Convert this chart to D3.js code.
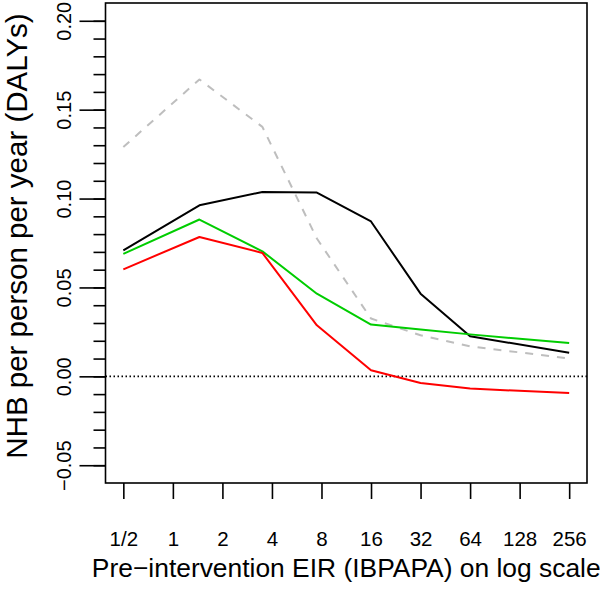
<!DOCTYPE html>
<html>
<head>
<meta charset="utf-8">
<script src="https://cdn.jsdelivr.net/npm/d3@7"></script>
<style>
  html, body { margin: 0; padding: 0; background: #fff; }
  svg { display: block; }
  text { font-family: "Liberation Sans", Arial, Helvetica, sans-serif; fill: #000; }
</style>
</head>
<body>
<svg id="chart" width="600" height="595"></svg>
<script>
// ---- data ----
const eir = [0.5, 1.45, 3.5, 7.5, 16, 32, 64, 256];
const seriesBlack = [0.0709, 0.0962, 0.1037, 0.1034, 0.0871, 0.0465, 0.0225, 0.0133];
const seriesGreen = [0.0689, 0.0882, 0.0703, 0.0465, 0.0291, 0.0263, 0.0236, 0.0187];
const seriesRed   = [0.0602, 0.0784, 0.0694, 0.0287, 0.0034, -0.0038, -0.0069, -0.0094];
const seriesGrey  = [0.129, 0.167, 0.1403, 0.0775, 0.0325, 0.0231, 0.0169, 0.0100];
const xTickValues = [0.5, 1, 2, 4, 8, 16, 32, 64, 128, 256];
const xTickLabels = ["1/2", "1", "2", "4", "8", "16", "32", "64", "128", "256"];
const yMajorTicks = [-0.05, 0, 0.05, 0.10, 0.15, 0.20];
const yMinorTicks = d3.range(-5, 21).map(i => i / 100);
const xTitle = "Pre\u2212intervention EIR (IBPAPA) on log scale";
const yTitle = "NHB per person per year (DALYs)";

// ---- layout ----
const box = { left: 105.5, right: 587, top: 3, bottom: 483 };
const svg = d3.select("#chart");

// R-style 4% padding on the log axis
const pad = 9 * 0.04;
const x = d3.scaleLog().base(2)
  .domain([0.5 / Math.pow(2, pad), 256 * Math.pow(2, pad)])
  .range([box.left, box.right]);
const y = d3.scaleLinear()
  .domain([-0.06, 0.21])
  .range([box.bottom, box.top]);

// zero reference line (dotted)
svg.append("line")
  .attr("x1", box.left).attr("x2", box.right)
  .attr("y1", y(0)).attr("y2", y(0))
  .attr("stroke", "#000").attr("stroke-width", 1.8)
  .attr("stroke-dasharray", "1.5,2.5");

// series
const line = d3.line()
  .x((d, i) => x(eir[i]))
  .y(d => y(d));

const series = [
  { values: seriesGrey,  color: "#BEBEBE", dash: "8,8" },
  { values: seriesBlack, color: "#000000", dash: null },
  { values: seriesGreen, color: "#00CD00", dash: null },
  { values: seriesRed,   color: "#FF0000", dash: null }
];
series.forEach(s => {
  svg.append("path")
    .datum(s.values)
    .attr("d", line)
    .attr("fill", "none")
    .attr("stroke", s.color)
    .attr("stroke-width", 2)
    .attr("stroke-linejoin", "round")
    .attr("stroke-dasharray", s.dash);
});

// box
svg.append("rect")
  .attr("x", box.left).attr("y", box.top)
  .attr("width", box.right - box.left).attr("height", box.bottom - box.top)
  .attr("fill", "none").attr("stroke", "#000").attr("stroke-width", 1.6);

// x axis
const xAxis = d3.axisBottom(x)
  .tickValues(xTickValues)
  .tickFormat((d, i) => xTickLabels[i])
  .tickSize(16)
  .tickPadding(32);
const gx = svg.append("g")
  .attr("transform", `translate(0,${box.bottom})`)
  .call(xAxis);
gx.select(".domain").remove();
gx.selectAll(".tick line").attr("stroke-width", 1.6);
gx.selectAll("text").attr("font-size", 20.5).attr("font-family", "Liberation Sans, Arial, sans-serif");

// y axis minor ticks
const gyMinor = svg.append("g")
  .attr("transform", `translate(${box.left},0)`)
  .call(d3.axisLeft(y).tickValues(yMinorTicks).tickSize(12).tickFormat(""));
gyMinor.select(".domain").remove();
gyMinor.selectAll(".tick line").attr("stroke-width", 1.6);

// y axis major ticks
const gy = svg.append("g")
  .attr("transform", `translate(${box.left},0)`)
  .call(d3.axisLeft(y).tickValues(yMajorTicks).tickSize(26).tickFormat(d3.format(".2f")));
gy.select(".domain").remove();
gy.selectAll(".tick line").attr("stroke-width", 1.6);
gy.selectAll("text")
  .attr("x", null).attr("dy", "0.35em")
  .attr("text-anchor", "middle")
  .attr("transform", "translate(-42,0) rotate(-90)")
  .attr("font-size", 20).attr("font-family", "Liberation Sans, Arial, sans-serif");

// axis titles
svg.append("text")
  .attr("x", (box.left + box.right) / 2)
  .attr("y", 577)
  .attr("text-anchor", "middle")
  .attr("font-size", 26.4)
  .text(xTitle);

svg.append("text")
  .attr("transform", `translate(27,236) rotate(-90)`)
  .attr("text-anchor", "middle")
  .attr("font-size", 29.5)
  .text(yTitle);
</script>
</body>
</html>
